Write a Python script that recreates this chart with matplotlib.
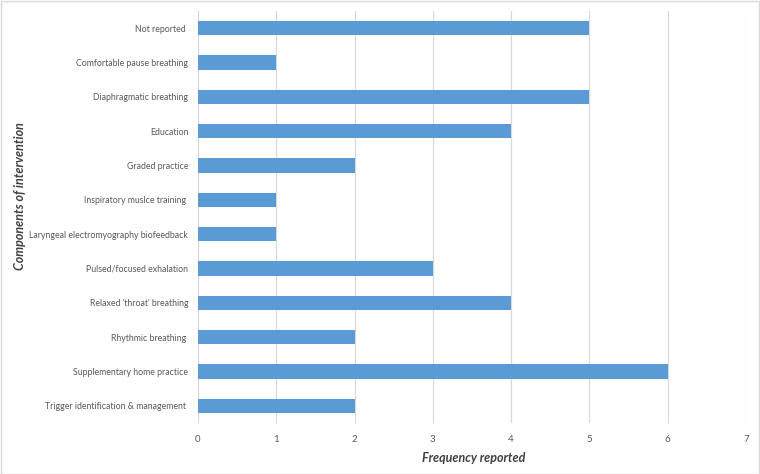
import matplotlib
matplotlib.use("Agg")
import matplotlib.pyplot as plt
from matplotlib.patches import Rectangle

categories = [
    "Not reported ",
    "Comfortable pause breathing",
    "Diaphragmatic breathing",
    "Education",
    "Graded practice",
    "Inspiratory muslce training ",
    "Laryngeal electromyography biofeedback",
    "Pulsed/focused exhalation",
    "Relaxed 'throat' breathing",
    "Rhythmic breathing ",
    "Supplementary home practice",
    "Trigger identification & management ",
]
values = [5, 1, 5, 4, 2, 1, 1, 3, 4, 2, 6, 2]
xticks = [0, 1, 2, 3, 4, 5, 6, 7]

plt.rcParams['font.family'] = ['Lato', 'DejaVu Sans']

fig = plt.figure(figsize=(7.6, 4.74), dpi=100)
ax = fig.add_axes([198/760, 1 - 423/474, 548/760, 412/474])

ypos = list(range(len(categories)))
ax.barh(ypos, values, height=0.42, color="#5B9BD5", zorder=3)
ax.set_ylim(len(categories) - 0.5, -0.5)
ax.set_xlim(0, 7)
ax.set_xticks(xticks)
ax.set_xticklabels([str(t) for t in xticks])
ax.set_yticks(ypos)
ax.set_yticklabels(categories)
ax.grid(axis="x", color="#D9D9D9", linewidth=0.9, zorder=0)
ax.grid(axis="y", visible=False)
for s in ax.spines.values():
    s.set_visible(False)
ax.tick_params(axis="both", length=0, labelcolor="#595959")
ax.tick_params(axis="x", pad=9, labelsize=7)
ax.tick_params(axis="y", pad=7, labelsize=6.3)

ax.set_xlabel("Frequency reported", fontsize=9, fontstyle="italic", fontweight="bold",
              color="#404040", labelpad=3)
ax.xaxis.set_label_coords((474 - 198) / 548, (423 - 452) / 412)
ax.set_ylabel("Components of intervention", fontsize=9, fontstyle="italic", fontweight="bold",
              color="#404040")
ax.yaxis.set_label_coords((26 - 198) / 548, (423 - 196) / 412)

fig.patches.append(Rectangle((0.5/760, 0.5/474), 1 - 1.5/760, 1 - 1.5/474,
                             transform=fig.transFigure, fill=False,
                             edgecolor="#D9D9D9", linewidth=1))

fig.savefig("out.png", dpi=100)
